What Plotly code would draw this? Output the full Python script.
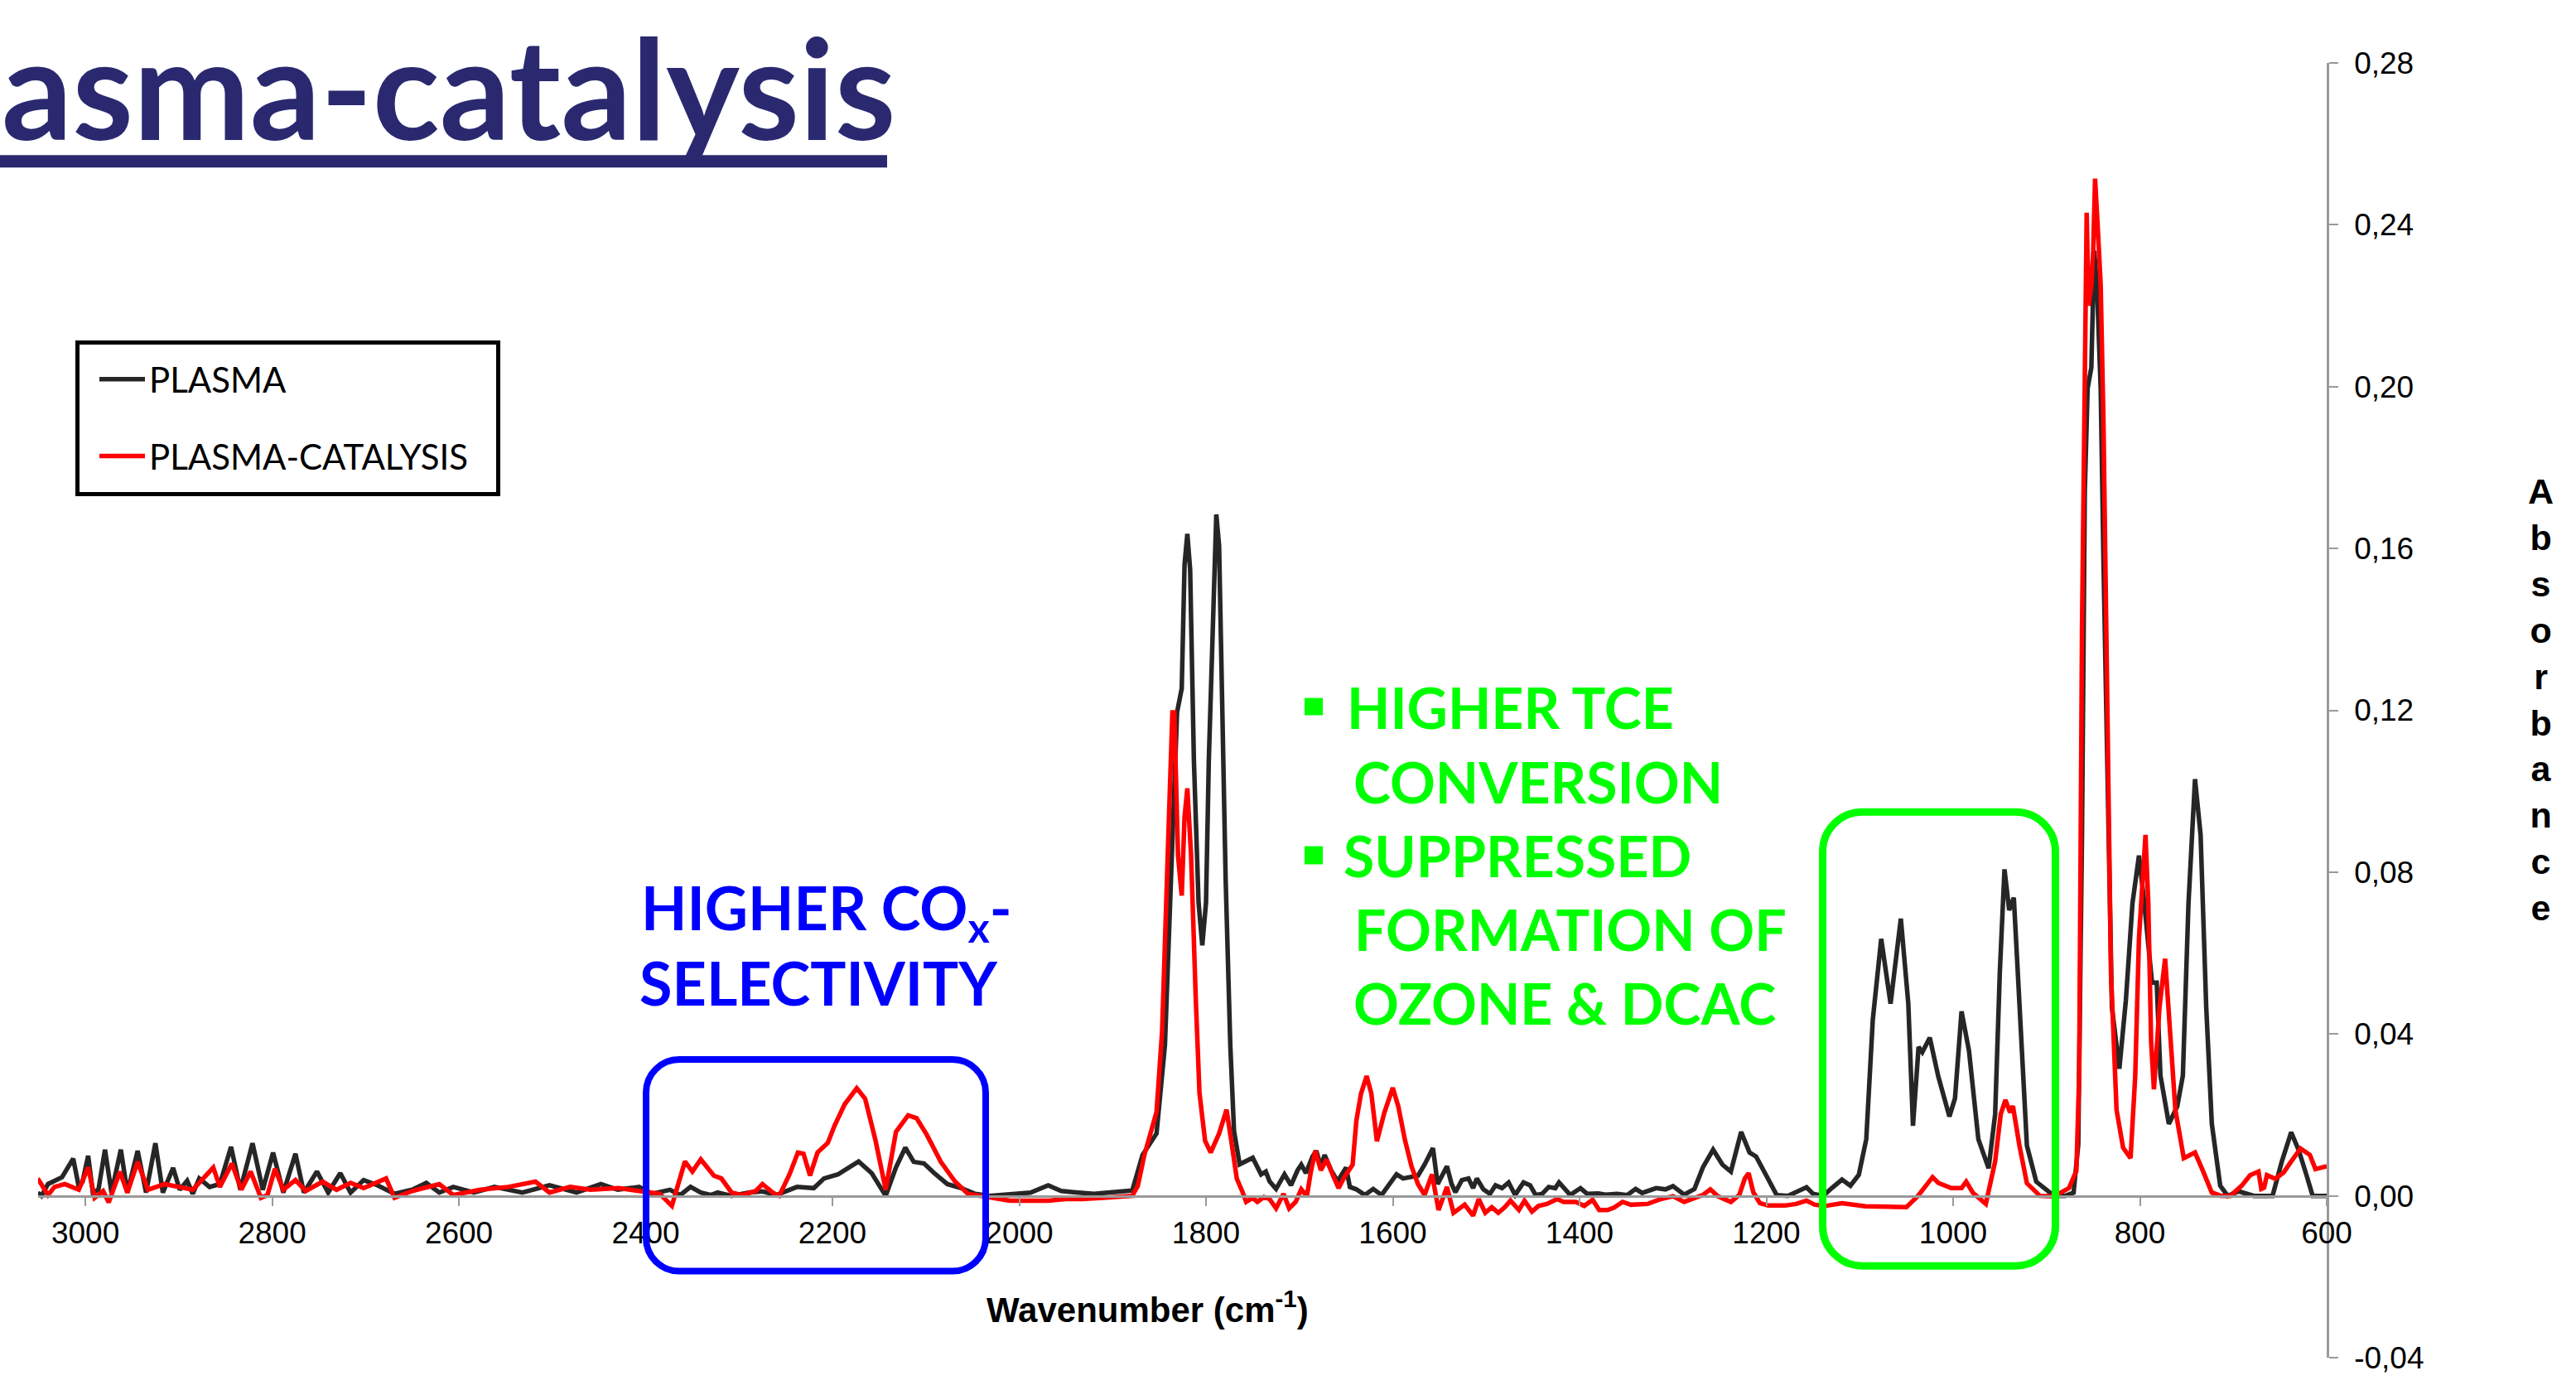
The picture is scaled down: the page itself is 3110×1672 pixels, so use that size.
import plotly.graph_objects as go

# ---------------- data ----------------
plasma_wn = [3051, 3047, 3040, 3025, 3013, 3007, 3003, 2997, 2992, 2986, 2979, 2972, 2962, 2955, 2944, 2935,
             2925, 2917, 2906, 2899, 2891, 2885, 2878, 2867, 2856, 2844, 2834, 2821, 2810, 2799, 2788, 2775,
             2766, 2752, 2740, 2727, 2716, 2702, 2687, 2669, 2650, 2635, 2621, 2606, 2584, 2562, 2532, 2503,
             2474, 2448, 2430, 2407, 2393, 2374, 2363, 2352, 2341, 2330, 2323, 2308, 2290, 2275, 2260, 2238,
             2220, 2209, 2194, 2172, 2158, 2143, 2132, 2122, 2113, 2102, 2091, 2077, 2062, 2047, 2032, 2010,
             1988, 1969, 1955, 1942, 1920, 1900, 1879, 1868, 1853, 1844, 1836, 1831, 1826, 1823, 1820, 1817,
             1813, 1808, 1804, 1800, 1797, 1792, 1789, 1786, 1783, 1779, 1774, 1770, 1764, 1757, 1750, 1741,
             1736, 1732, 1725, 1716, 1709, 1702, 1698, 1693, 1686, 1682, 1677, 1673, 1666, 1659, 1655, 1650,
             1646, 1639, 1630, 1621, 1612, 1603, 1596, 1589, 1580, 1573, 1566, 1562, 1557, 1552, 1546, 1542,
             1537, 1533, 1526, 1519, 1514, 1510, 1503, 1496, 1490, 1483, 1476, 1469, 1460, 1453, 1447, 1440,
             1433, 1426, 1422, 1415, 1410, 1399, 1392, 1380, 1372, 1360, 1349, 1340, 1333, 1318, 1308, 1300,
             1288, 1277, 1268, 1257, 1247, 1238, 1233, 1227, 1218, 1211, 1200, 1189, 1177, 1168, 1157, 1150,
             1139, 1130, 1119, 1110, 1101, 1093, 1086, 1077, 1067, 1056, 1048, 1043, 1037, 1033, 1025, 1016,
             1004, 998, 991, 983, 973, 962, 955, 950, 945, 940, 935, 929, 921, 911, 903, 892,
             880, 871, 866, 862, 859, 856, 852, 849, 846, 842, 839, 834, 830, 822, 815, 808,
             801, 796, 790, 787, 782, 778, 769, 760, 754, 748, 741, 735, 729, 723, 714, 706,
             694, 678, 658, 648, 638, 630, 622, 615, 600]
plasma_abs = [0.0008, 0.0000, 0.0029, 0.0046, 0.0092, 0.0022, 0.0035, 0.0099, 0.0008, 0.0015, 0.0114, 0.0008,
              0.0114, 0.0008, 0.0111, 0.0008, 0.0130, 0.0008, 0.0069, 0.0015, 0.0037, 0.0005, 0.0043, 0.0022,
              0.0029, 0.0121, 0.0015, 0.0130, 0.0015, 0.0107, 0.0008, 0.0104, 0.0008, 0.0060, 0.0008, 0.0056,
              0.0008, 0.0039, 0.0026, 0.0005, 0.0015, 0.0032, 0.0008, 0.0022, 0.0008, 0.0022, 0.0008, 0.0026,
              0.0008, 0.0029, 0.0015, 0.0022, 0.0005, 0.0015, 0.0002, 0.0022, 0.0008, 0.0002, 0.0008, 0.0000,
              0.0008, 0.0011, 0.0002, 0.0022, 0.0019, 0.0043, 0.0053, 0.0085, 0.0056, 0.0000, 0.0070, 0.0119,
              0.0084, 0.0080, 0.0056, 0.0029, 0.0019, 0.0005, 0.0000, 0.0005, 0.0008, 0.0026, 0.0012, 0.0009,
              0.0005, 0.0009, 0.0013, 0.0101, 0.0154, 0.0372, 0.0842, 0.1195, 0.1254, 0.1560, 0.1636, 0.1548,
              0.1078, 0.0725, 0.0619, 0.0725, 0.1078, 0.1431, 0.1684, 0.1607, 0.1254, 0.0784, 0.0372, 0.0160,
              0.0078, 0.0085, 0.0094, 0.0053, 0.0060, 0.0036, 0.0017, 0.0053, 0.0026, 0.0063, 0.0077, 0.0056,
              0.0097, 0.0111, 0.0073, 0.0101, 0.0063, 0.0036, 0.0053, 0.0070, 0.0022, 0.0016, 0.0002, 0.0017,
              0.0002, 0.0029, 0.0053, 0.0043, 0.0046, 0.0050, 0.0077, 0.0094, 0.0118, 0.0029, 0.0056, 0.0073,
              0.0029, 0.0009, 0.0039, 0.0043, 0.0019, 0.0043, 0.0016, 0.0005, 0.0026, 0.0019, 0.0033, 0.0002,
              0.0033, 0.0026, 0.0002, 0.0005, 0.0022, 0.0019, 0.0033, 0.0016, 0.0002, 0.0019, 0.0005, 0.0006,
              0.0003, 0.0005, 0.0002, 0.0017, 0.0007, 0.0019, 0.0016, 0.0024, 0.0003, 0.0017, 0.0070, 0.0114,
              0.0077, 0.0060, 0.0104, 0.0158, 0.0107, 0.0097, 0.0050, 0.0002, 0.0000, 0.0009, 0.0021, 0.0005,
              0.0000, 0.0019, 0.0040, 0.0025, 0.0052, 0.0140, 0.0436, 0.0635, 0.0475, 0.0685, 0.0475, 0.0173,
              0.0368, 0.0355, 0.0391, 0.0296, 0.0196, 0.0241, 0.0456, 0.0358, 0.0140, 0.0068, 0.0202, 0.0553,
              0.0807, 0.0706, 0.0737, 0.0475, 0.0124, 0.0035, 0.0019, 0.0000, 0.0000, 0.0008, 0.0127, 0.0892,
              0.1740, 0.1996, 0.2047, 0.2336, 0.2251, 0.1996, 0.1570, 0.0892, 0.0467, 0.0314, 0.0484, 0.0722,
              0.0841, 0.0739, 0.0586, 0.0527, 0.0527, 0.0297, 0.0178, 0.0221, 0.0297, 0.0722, 0.1030, 0.0892,
              0.0467, 0.0178, 0.0025, 0.0000, 0.0011, 0.0000, 0.0000, 0.0085, 0.0157, 0.0113, 0.0054, 0.0000,
              0.0000]

catal_wn = [3051, 3040, 3033, 3022, 3007, 2997, 2990, 2981, 2975, 2963, 2955, 2944, 2933, 2915, 2900, 2885,
            2863, 2856, 2843, 2833, 2823, 2812, 2805, 2797, 2788, 2775, 2764, 2746, 2731, 2716, 2702, 2691,
            2678, 2669, 2650, 2621, 2606, 2577, 2547, 2518, 2503, 2481, 2459, 2429, 2400, 2385, 2372, 2363,
            2358, 2350, 2341, 2327, 2319, 2308, 2297, 2282, 2275, 2264, 2257, 2246, 2237, 2231, 2224, 2216,
            2205, 2198, 2187, 2174, 2165, 2154, 2143, 2132, 2119, 2110, 2099, 2084, 2069, 2055, 2032, 2010,
            1988, 1969, 1950, 1933, 1910, 1894, 1879, 1873, 1866, 1853, 1847, 1841, 1836, 1834, 1830, 1826,
            1823, 1820, 1816, 1811, 1807, 1801, 1795, 1786, 1778, 1773, 1767, 1761, 1757, 1750, 1745, 1738,
            1732, 1725, 1717, 1711, 1704, 1698, 1692, 1688, 1683, 1677, 1671, 1664, 1658, 1652, 1643, 1639,
            1634, 1628, 1623, 1617, 1609, 1600, 1594, 1587, 1580, 1573, 1566, 1558, 1551, 1542, 1535, 1523,
            1514, 1508, 1501, 1494, 1487, 1480, 1474, 1465, 1459, 1451, 1444, 1435, 1424, 1417, 1404, 1395,
            1386, 1379, 1370, 1363, 1354, 1345, 1327, 1313, 1300, 1288, 1277, 1268, 1260, 1252, 1238, 1229,
            1223, 1219, 1214, 1207, 1198, 1180, 1168, 1157, 1148, 1137, 1119, 1100, 1094, 1070, 1050, 1038,
            1022, 1016, 1002, 991, 986, 979, 965, 955, 949, 944, 939, 936, 929, 921, 907, 892,
            876, 868, 865, 862, 859, 857, 855, 852, 850, 848, 845, 842, 839, 835, 831, 825,
            818, 810, 805, 801, 797, 794, 791, 788, 785, 779, 773, 768, 762, 753, 741, 732,
            723, 713, 703, 691, 682, 673, 670, 667, 664, 655, 646, 638, 628, 618, 612, 600]
catal_abs = [0.0043, 0.0002, 0.0022, 0.0029, 0.0015, 0.0070, -0.0005, 0.0012, -0.0016, 0.0060, 0.0008, 0.0084,
             0.0015, 0.0029, 0.0022, 0.0015, 0.0070, 0.0022, 0.0080, 0.0015, 0.0060, -0.0005, 0.0002, 0.0067,
             0.0015, 0.0039, 0.0012, 0.0035, 0.0015, 0.0032, 0.0019, 0.0029, 0.0043, -0.0005, 0.0012, 0.0029,
             0.0002, 0.0015, 0.0022, 0.0035, 0.0008, 0.0022, 0.0015, 0.0019, 0.0008, 0.0005, -0.0025, 0.0050,
             0.0085, 0.0060, 0.0090, 0.0050, 0.0043, 0.0008, 0.0002, 0.0012, 0.0029, 0.0008, 0.0000, 0.0053,
             0.0107, 0.0104, 0.0050, 0.0107, 0.0131, 0.0172, 0.0226, 0.0266, 0.0240, 0.0138, 0.0015, 0.0158,
             0.0199, 0.0192, 0.0151, 0.0084, 0.0036, 0.0005, -0.0005, -0.0012, -0.0012, -0.0012, -0.0008, -0.0008,
             -0.0005, -0.0002, 0.0000, 0.0025, 0.0101, 0.0207, 0.0407, 0.0842, 0.1195, 0.1195, 0.0842, 0.0742,
             0.0936, 0.1007, 0.0842, 0.0489, 0.0254, 0.0136, 0.0107, 0.0154, 0.0213, 0.0136, 0.0042, 0.0010,
             -0.0015, -0.0005, -0.0015, -0.0003, -0.0008, -0.0031, 0.0005, -0.0031, -0.0015, 0.0016, -0.0001, 0.0056,
             0.0111, 0.0063, 0.0090, 0.0050, 0.0019, 0.0046, 0.0077, 0.0186, 0.0253, 0.0296, 0.0253, 0.0135,
             0.0206, 0.0267, 0.0220, 0.0138, 0.0073, 0.0029, 0.0002, 0.0053, -0.0035, 0.0022, -0.0042, -0.0022,
             -0.0049, -0.0008, -0.0042, -0.0028, -0.0042, -0.0028, -0.0012, -0.0035, -0.0012, -0.0039, -0.0025, -0.0020,
             -0.0008, -0.0015, -0.0015, -0.0025, -0.0010, -0.0035, -0.0035, -0.0029, -0.0015, -0.0022, -0.0020, -0.0008,
             -0.0001, -0.0015, -0.0006, 0.0002, 0.0016, -0.0001, -0.0015, 0.0002, 0.0043, 0.0056, 0.0009, -0.0018,
             -0.0024, -0.0024, -0.0020, -0.0012, -0.0022, -0.0025, -0.0018, -0.0025, -0.0026, -0.0027, -0.0028, -0.0001,
             0.0046, 0.0032, 0.0019, 0.0019, 0.0035, 0.0008, -0.0020, 0.0085, 0.0202, 0.0237, 0.0206, 0.0222,
             0.0124, 0.0031, 0.0000, -0.0001, 0.0019, 0.0062, 0.0300, 0.1400, 0.2166, 0.2430, 0.2200, 0.2250,
             0.2336, 0.2514, 0.2387, 0.2251, 0.1911, 0.1232, 0.0552, 0.0212, 0.0119, 0.0093, 0.0297, 0.0637,
             0.0807, 0.0892, 0.0722, 0.0382, 0.0263, 0.0467, 0.0586, 0.0416, 0.0212, 0.0093, 0.0107, 0.0059,
             0.0008, 0.0000, 0.0000, 0.0025, 0.0051, 0.0060, 0.0017, 0.0020, 0.0051, 0.0042, 0.0058, 0.0085,
             0.0117, 0.0101, 0.0066, 0.0073]

series_names = ["PLASMA", "PLASMA-CATALYSIS"]
x_tick_vals = [3000, 2800, 2600, 2400, 2200, 2000, 1800, 1600, 1400, 1200, 1000, 800, 600]
y_tick_vals = [-0.04, 0.00, 0.04, 0.08, 0.12, 0.16, 0.20, 0.24, 0.28]
y_tick_text = ["-0,04", "0,00", "0,04", "0,08", "0,12", "0,16", "0,20", "0,24", "0,28"]

# ---------------- layout geometry ----------------
WIDTH, HEIGHT = 3110, 1672
L, R, T, B = 46, 2809, 76, 1648
PW, PH = R - L, B - T


def px(x):
    return (x - L) / PW


def py(y):
    return (B - y) / PH


def rrect_path(x0, y0, x1, y1, r):
    k = 0.5523 * r

    def P(x, y):
        return f"{px(x):.5f},{py(y):.5f}"
    d = f"M{P(x0 + r, y0)} L{P(x1 - r, y0)} "
    d += f"C{P(x1 - r + k, y0)} {P(x1, y0 + r - k)} {P(x1, y0 + r)} "
    d += f"L{P(x1, y1 - r)} "
    d += f"C{P(x1, y1 - r + k)} {P(x1 - r + k, y1)} {P(x1 - r, y1)} "
    d += f"L{P(x0 + r, y1)} "
    d += f"C{P(x0 + r - k, y1)} {P(x0, y1 - r + k)} {P(x0, y1 - r)} "
    d += f"L{P(x0, y0 + r)} "
    d += f"C{P(x0, y0 + r - k)} {P(x0 + r - k, y0)} {P(x0 + r, y0)} Z"
    return d


fig = go.Figure()
fig.add_trace(go.Scatter(x=plasma_wn, y=plasma_abs, mode="lines", name=series_names[0],
                         legendgroup="a", line=dict(color="#262626", width=5.5)))
fig.add_trace(go.Scatter(x=catal_wn, y=catal_abs, mode="lines", name=series_names[1],
                         legendgroup="b", line=dict(color="#ff0000", width=5.5)))

TICKFONT = dict(family="Liberation Sans, Arial, sans-serif", size=37, color="black")
AXCOL = "#9a9a9a"

fig.update_layout(
    width=WIDTH, height=HEIGHT,
    margin=dict(l=L, r=WIDTH - R, t=T, b=HEIGHT - B, pad=0),
    paper_bgcolor="white", plot_bgcolor="white",
    showlegend=True,
    legend=dict(x=px(115), y=py(426), xanchor="left", yanchor="top",
                borderwidth=0, bgcolor="rgba(0,0,0,0)",
                font=dict(family="Lato", size=42, color="black"),
                tracegroupgap=35, traceorder="grouped", itemwidth=55),
    xaxis=dict(range=[3050.6, 600], autorange=False, anchor="free", position=0.125,
               showline=True, linecolor=AXCOL, linewidth=2.5, showgrid=False, zeroline=False,
               ticks="outside", ticklen=11, tickwidth=2, tickcolor=AXCOL,
               tickvals=x_tick_vals, tickfont=TICKFONT, ticklabelstandoff=0),
    yaxis=dict(range=[-0.04, 0.28], autorange=False, side="right", anchor="x",
               showline=True, linecolor=AXCOL, linewidth=2.5, showgrid=False, zeroline=False,
               ticks="outside", ticklen=11, tickwidth=2, tickcolor=AXCOL,
               tickvals=y_tick_vals, ticktext=y_tick_text, tickfont=TICKFONT,
               ticklabelstandoff=12),
)

shapes = []
# legend frame
shapes.append(dict(type="rect", xref="paper", yref="paper", x0=px(93.5), x1=px(601.5),
                   y0=py(599.5), y1=py(415.5), line=dict(color="black", width=5), layer="above"))
# title underline
shapes.append(dict(type="rect", xref="paper", yref="paper", x0=px(-10), x1=px(1071),
                   y0=py(203), y1=py(188), fillcolor="#2a2970", line=dict(width=0), layer="above"))
# blue and green rounded boxes
shapes.append(dict(type="path", xref="paper", yref="paper", path=rrect_path(780, 1286, 1190, 1543, 40),
                   line=dict(color="#0000ff", width=8), layer="above"))
shapes.append(dict(type="path", xref="paper", yref="paper", path=rrect_path(2200.5, 985.5, 2481.5, 1536.5, 48),
                   line=dict(color="#00ff00", width=9), layer="above"))
# bullets
for (y0, y1) in [(847, 868), (1027, 1049)]:
    shapes.append(dict(type="rect", xref="paper", yref="paper", x0=px(1575), x1=px(1597),
                       y0=py(y1), y1=py(y0), fillcolor="#00ff00", line=dict(width=0), layer="above"))
fig.update_layout(shapes=shapes)

ann = []
ann.append(dict(text="asma-catalysis", x=px(0), y=py(104), xref="paper", yref="paper",
                xanchor="left", yanchor="middle", showarrow=False,
                font=dict(family="Lato", size=168, color="#2a2970", weight="bold")))
ann.append(dict(text="<b>Wavenumber (cm<sup>-1</sup>)</b>", x=px(1385), y=py(1587), xref="paper", yref="paper",
                xanchor="center", yanchor="middle", showarrow=False,
                font=dict(family="Liberation Sans, Arial, sans-serif", size=42, color="black")))
ann.append(dict(text="<br>".join(list("Absorbance")), x=px(3067), y=py(849), xref="paper", yref="paper",
                xanchor="center", yanchor="middle", showarrow=False, align="center",
                font=dict(family="Liberation Sans, Arial, sans-serif", size=43, color="black", weight="bold")))

BLUE = dict(family="Lato", size=72, color="#0000ff", weight="bold")
GREEN = dict(family="Lato", size=68, color="#00ff00", weight="bold")
for txt, x, y, f in [("HIGHER CO<sub>x</sub>-", 772, 1106, BLUE),
                     ("SELECTIVITY", 770, 1192, BLUE),
                     ("HIGHER TCE", 1624, 858, GREEN),
                     ("CONVERSION", 1632, 948, GREEN),
                     ("SUPPRESSED", 1620, 1038, GREEN),
                     ("FORMATION OF", 1633, 1128, GREEN),
                     ("OZONE &amp; DCAC", 1632, 1217, GREEN)]:
    ann.append(dict(text=txt, x=px(x), y=py(y), xref="paper", yref="paper",
                    xanchor="left", yanchor="middle", showarrow=False, font=f))
fig.update_layout(annotations=ann)

fig.write_html("out.html", config={"displayModeBar": False},
               post_script="document.body.style.margin='0';document.body.style.overflow='hidden';")
